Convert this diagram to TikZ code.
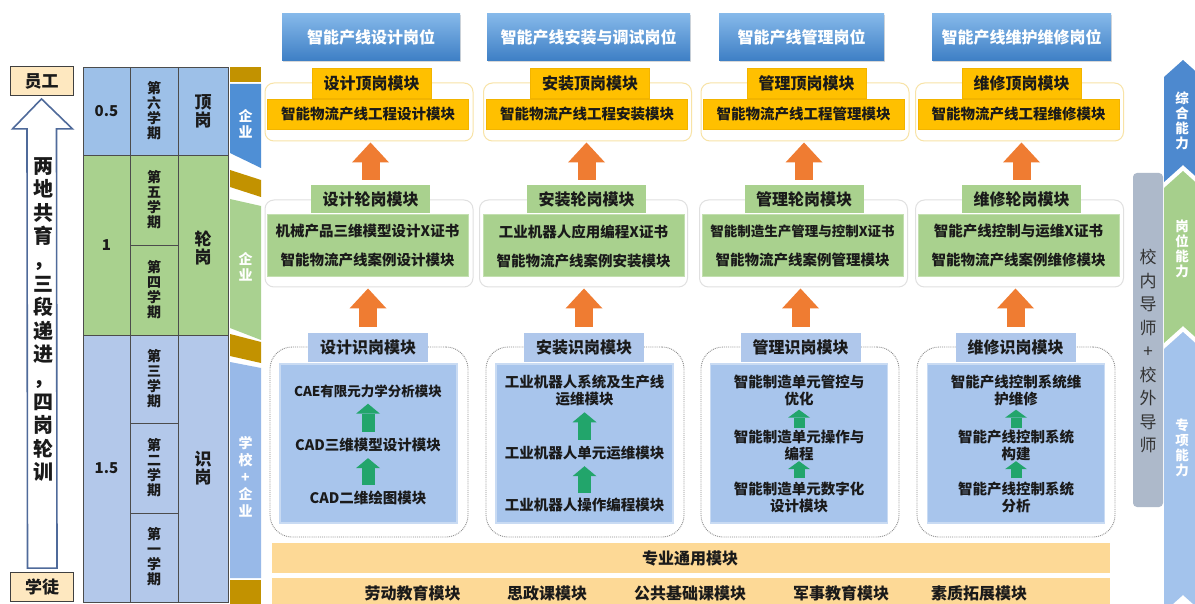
\documentclass[tikz,border=0pt]{standalone}
\usepackage{fontspec}
\setmainfont{Noto Sans CJK SC}
\usetikzlibrary{arrows.meta,shadows}

\newcommand{\fsz}[2]{\fontsize{#1}{#2}\selectfont}

\definecolor{hdrtop}{HTML}{86B9EA}
\definecolor{hdrbot}{HTML}{3E7FC5}
\definecolor{gold}{HTML}{FFC000}
\definecolor{goldedge}{HTML}{F2B400}
\definecolor{goldline}{HTML}{F8E3A6}
\definecolor{grn}{HTML}{A9D18E}
\definecolor{sktab}{HTML}{AFC7EB}
\definecolor{skbox}{HTML}{A8C5EC}
\definecolor{skrim}{HTML}{C9DBF3}
\definecolor{orangearr}{HTML}{EF7C32}
\definecolor{greenarr}{HTML}{22A56B}
\definecolor{tanbar}{HTML}{FDD996}
\definecolor{cellblue}{HTML}{9DC0E8}
\definecolor{cellgreen}{HTML}{A9D18E}
\definecolor{celllight}{HTML}{B3C8EA}
\definecolor{strgold}{HTML}{C29200}
\definecolor{strblue}{HTML}{4F8FD5}
\definecolor{strgreen}{HTML}{A9D190}
\definecolor{strlight}{HTML}{98B9E8}
\definecolor{mentor}{HTML}{ADB9CA}
\definecolor{capblue}{HTML}{4D89CF}
\definecolor{capgreen}{HTML}{A6CF8C}
\definecolor{caplight}{HTML}{A3C3EC}
\definecolor{arrline}{HTML}{4F6A9A}
\definecolor{txt}{HTML}{1A1A1A}

\begin{document}
\begin{tikzpicture}[x=1pt,y=-1pt,
  hdr/.style={inner sep=0, minimum height=47, top color=hdrtop, bottom color=hdrbot,
    text=white, font=\fsz{16}{18}\bfseries,
    drop shadow={shadow xshift=1pt, shadow yshift=-2pt, opacity=0.3}},
  topout/.style={draw=goldline, line width=1pt, rounded corners=9, fill=white,
    minimum width=208, minimum height=58, inner sep=0},
  toptab/.style={draw=goldedge, fill=gold, inner sep=0, minimum width=119,
    minimum height=30, text=txt, font=\fsz{16}{18}\bfseries},
  topbar/.style={draw=goldedge, fill=gold, inner sep=0, minimum width=201,
    minimum height=30, text=txt, font=\fsz{14.5}{17}\bfseries},
  midout/.style={draw=black!12, line width=1pt, rounded corners=9, fill=white,
    minimum width=208, minimum height=87, inner sep=0},
  midtab/.style={fill=grn, inner sep=0, minimum width=119, minimum height=28,
    text=txt, font=\fsz{16}{18}\bfseries},
  midbox/.style={draw=grn!70!white, line width=1pt, fill=grn, inner sep=0,
    minimum width=201, minimum height=62, align=center, text=txt,
    font=\fsz{14.5}{29}\bfseries},
  lowout/.style={draw=black!45, densely dotted, line width=0.9pt, rounded corners=22,
    minimum width=198, minimum height=190, inner sep=0},
  lowtab/.style={fill=sktab, inner sep=0, minimum width=120, minimum height=29,
    text=txt, font=\fsz{16}{18}\bfseries},
  lowbox/.style={draw=skrim, line width=1.5pt, fill=skbox, inner sep=0,
    minimum width=177, minimum height=159},
  lowtxt/.style={inner sep=0, align=center, text=txt, font=\fsz{14.5}{17}\bfseries},
  uporange/.style={orangearr, line width=18pt,
    -{Triangle[width=37pt,length=20pt,line width=0pt]}},
  upgreen/.style={greenarr, line width=13pt,
    -{Triangle[width=24pt,length=10pt,line width=0pt]}},
  upgreensm/.style={greenarr, line width=11pt,
    -{Triangle[width=22pt,length=8pt,line width=0pt]}},
  vtxt/.style={inner sep=0, align=center, text=txt},
  whitetxt/.style={inner sep=0, align=center, text=white},
  basetxt/.style={inner sep=0, text=txt, font=\fsz{16}{18}\bfseries},
  endbox/.style={draw=black!75, line width=0.8pt, fill=tanbar!60!white, inner sep=0,
    minimum width=63, minimum height=29, text=txt, font=\fsz{17}{19}\bfseries},
]
\clip (0,0) rectangle (1195,604);
\fill[white] (0,0) rectangle (1195,604);

% left: apprentice to employee
\node[endbox] (yg) at (41.5,81) {员工};
\node[endbox] (xt) at (42,587) {学徒};
\draw[arrline, line width=1.6pt, fill=white]
  ([xshift=-14.5pt,yshift=4pt]xt.north) -- ([xshift=-14.5pt,yshift=-33pt]yg.south)
  -- ([xshift=-29pt,yshift=-33pt]yg.south) -- ([yshift=-3pt]yg.south)
  -- ([xshift=31pt,yshift=-33pt]yg.south) -- ([xshift=15pt,yshift=-33pt]yg.south)
  -- ([xshift=15pt,yshift=4pt]xt.north) -- cycle;
\node[vtxt, font=\fsz{20}{23.6}\bfseries] (motto) at (43,319.5)
  {两\\地\\共\\育\\，\\三\\段\\递\\进\\，\\四\\岗\\轮\\训};

% semester table
\fill[cellblue] (83,67) rectangle (228,155);
\fill[cellgreen] (83,155) rectangle (228,335);
\fill[celllight] (83,335) rectangle (228,602);
\draw[black!70, line width=0.8pt] (83,67) rectangle (228,602);
\draw[black!70, line width=0.8pt] (83,155) -- (228,155);
\draw[black!70, line width=0.8pt] (83,335) -- (228,335);
\draw[black!70, line width=0.8pt] (130,67) -- (130,602);
\draw[black!70, line width=0.8pt] (178,67) -- (178,602);
\draw[black!70, line width=0.8pt] (130,245) -- (178,245);
\draw[black!70, line width=0.8pt] (130,423) -- (178,423);
\draw[black!70, line width=0.8pt] (130,513) -- (178,513);

\node[vtxt, font=\fsz{15}{17}\bfseries] (yr1) at (106.5,111) {0.5};
\node[vtxt, font=\fsz{15}{17}\bfseries] (yr2) at (106.5,245) {1};
\node[vtxt, font=\fsz{15}{17}\bfseries] (yr3) at (106.5,468) {1.5};
\node[vtxt, font=\fsz{14}{15}\bfseries] (sem6) at (154,111) {第\\六\\学\\期};
\node[vtxt, font=\fsz{14}{15}\bfseries] (sem5) at (154,200) {第\\五\\学\\期};
\node[vtxt, font=\fsz{14}{15}\bfseries] (sem4) at (154,290) {第\\四\\学\\期};
\node[vtxt, font=\fsz{14}{15}\bfseries] (sem3) at (154,379) {第\\三\\学\\期};
\node[vtxt, font=\fsz{14}{15}\bfseries] (sem2) at (154,468) {第\\二\\学\\期};
\node[vtxt, font=\fsz{14}{15}\bfseries] (sem1) at (154,557) {第\\一\\学\\期};
\node[vtxt, font=\fsz{17}{18}\bfseries] (stg1) at (203,111) {顶\\岗};
\node[vtxt, font=\fsz{17}{18}\bfseries] (stg2) at (203,248) {轮\\岗};
\node[vtxt, font=\fsz{17}{18}\bfseries] (stg3) at (203,468) {识\\岗};

% place strip
\fill[strgold] (230,67) -- (261,67) -- (261,82) -- (230,82) -- cycle;
\fill[strblue] (230,84) -- (261,84) -- (261,168) -- (230,153) -- cycle;
\fill[strgold] (230,170) -- (261,180) -- (261,197) -- (230,187) -- cycle;
\fill[strgreen] (230,199) -- (261,206) -- (261,340) -- (230,328) -- cycle;
\fill[strgold] (230,334) -- (261,342) -- (261,363) -- (230,356) -- cycle;
\fill[strlight] (230,362) -- (261,368) -- (261,578) -- (230,578) -- cycle;
\fill[strgold] (230,580) -- (261,580) -- (261,604) -- (230,604) -- cycle;
\node[whitetxt, font=\fsz{14}{16.5}\bfseries] (plc1) at (245.5,124) {企\\业};
\node[whitetxt, font=\fsz{14}{16.5}\bfseries] (plc2) at (245.5,267) {企\\业};
\node[whitetxt, font=\fsz{14}{17}\bfseries] (plc3) at (245.5,477) {学\\校\\+\\企\\业};

% posts
\node[hdr, minimum width=178] (pos1) at (371,37) {智能产线设计岗位};
\node[hdr, minimum width=203] (pos2) at (588.5,37) {智能产线安装与调试岗位};
\node[hdr, minimum width=165] (pos3) at (801.5,37) {智能产线管理岗位};
\node[hdr, minimum width=179] (pos4) at (1021.5,37) {智能产线维护维修岗位};

% top post modules
\node[topout] (dout1) at (369,112) {};
\node[topout] (dout2) at (587.5,112) {};
\node[topout] (dout3) at (805,112) {};
\node[topout] (dout4) at (1019.5,112) {};
\node[toptab] (dtab1) at (371.5,83) {设计顶岗模块};
\node[toptab] (dtab2) at (590,83) {安装顶岗模块};
\node[toptab] (dtab3) at (806.5,83) {管理顶岗模块};
\node[toptab] (dtab4) at (1021.5,83) {维修顶岗模块};
\node[topbar] (dbar1) at (368,114) {智能物流产线工程设计模块};
\node[topbar] (dbar2) at (587,114) {智能物流产线工程安装模块};
\node[topbar] (dbar3) at (803.5,114) {智能物流产线工程管理模块};
\node[topbar] (dbar4) at (1018.5,114) {智能物流产线工程维修模块};

% rotation modules
\node[midout] (lout1) at (369,243.5) {};
\node[midout] (lout2) at (583.5,243.5) {};
\node[midout] (lout3) at (803.5,243.5) {};
\node[midout] (lout4) at (1019.5,243.5) {};
\node[midtab] (ltab1) at (370.5,199) {设计轮岗模块};
\node[midtab] (ltab2) at (586.5,199) {安装轮岗模块};
\node[midtab] (ltab3) at (804,199) {管理轮岗模块};
\node[midtab] (ltab4) at (1021.5,199) {维修轮岗模块};
\node[midbox] (lbox1) at (367.5,246) {机械产品三维模型设计X证书\\智能物流产线案例设计模块};
\node[midbox] (lbox2) at (583.5,246) {工业机器人应用编程X证书\\智能物流产线案例安装模块};
\node[midbox] (lbox3) at (802.5,246) {{\fsz{13.5}{29}智能制造生产管理与控制X证书}\\智能物流产线案例管理模块};
\node[midbox] (lbox4) at (1018.5,246) {智能产线控制与运维X证书\\智能物流产线案例维修模块};

% recognition modules
\node[lowout] (sout1) at (369,442) {};
\node[lowout] (sout2) at (585,442) {};
\node[lowout] (sout3) at (800,442) {};
\node[lowout] (sout4) at (1016,442) {};
\node[lowtab] (stab1) at (368,347.5) {设计识岗模块};
\node[lowtab] (stab2) at (584,347.5) {安装识岗模块};
\node[lowtab] (stab3) at (800.5,347.5) {管理识岗模块};
\node[lowtab] (stab4) at (1015.5,347.5) {维修识岗模块};
\node[lowbox] (sbox1) at (368.5,443.5) {};
\node[lowbox] (sbox2) at (584.5,443.5) {};
\node[lowbox] (sbox3) at (799,443.5) {};
\node[lowbox] (sbox4) at (1016,443.5) {};

\node[lowtxt, font=\fsz{13.5}{17}\bfseries] (c1a) at (368,391) {CAE有限元力学分析模块};
\node[lowtxt] (c1b) at (368,445) {CAD三维模型设计模块};
\node[lowtxt] (c1c) at (368,498) {CAD二维绘图模块};
\node[lowtxt] (c2a) at (584.5,390.5) {工业机器人系统及生产线\\运维模块};
\node[lowtxt] (c2b) at (584.5,453) {工业机器人单元运维模块};
\node[lowtxt] (c2c) at (584.5,505) {工业机器人操作编程模块};
\node[lowtxt] (c3a) at (799,390.5) {智能制造单元管控与\\优化};
\node[lowtxt] (c3b) at (799,445) {智能制造单元操作与\\编程};
\node[lowtxt] (c3c) at (799,497) {智能制造单元数字化\\设计模块};
\node[lowtxt] (c4a) at (1016,390.5) {智能产线控制系统维\\护维修};
\node[lowtxt] (c4b) at (1016,445) {智能产线控制系统\\构建};
\node[lowtxt] (c4c) at (1016,497) {智能产线控制系统\\分析};

\draw[upgreen, shorten <=6pt, shorten >=6pt] (c1b.north) -- (c1a.south);
\draw[upgreen, shorten <=6pt, shorten >=6pt] (c1c.north) -- (c1b.south);
\draw[upgreen, shorten <=6pt, shorten >=6pt] (c2b.north) -- (c2a.south);
\draw[upgreen, shorten <=5pt, shorten >=6pt] (c2c.north) -- (c2b.south);
\draw[upgreensm, shorten <=1.5pt, shorten >=3.5pt] (c3b.north) -- (c3a.south);
\draw[upgreensm, shorten <=3pt, shorten >=0.5pt] (c3c.north) -- (c3b.south);
\draw[upgreensm, shorten <=1.5pt, shorten >=3.5pt] (c4b.north) -- (c4a.south);
\draw[upgreensm, shorten <=3pt, shorten >=0.5pt] (c4c.north) -- (c4b.south);

% stage arrows
\draw[uporange, shorten <=5pt, shorten >=1pt] (ltab1.north) -- (ltab1.north |- dout1.south);
\draw[uporange, shorten <=5pt, shorten >=1pt] (ltab2.north) -- (ltab2.north |- dout2.south);
\draw[uporange, shorten <=5pt, shorten >=1pt] (ltab3.north) -- (ltab3.north |- dout3.south);
\draw[uporange, shorten <=5pt, shorten >=1pt] (ltab4.north) -- (ltab4.north |- dout4.south);
\draw[uporange, shorten <=6pt, shorten >=1pt] (stab1.north) -- (stab1.north |- lout1.south);
\draw[uporange, shorten <=6pt, shorten >=1pt] (stab2.north) -- (stab2.north |- lout2.south);
\draw[uporange, shorten <=6pt, shorten >=1pt] (stab3.north) -- (stab3.north |- lout3.south);
\draw[uporange, shorten <=6pt, shorten >=1pt] (stab4.north) -- (stab4.north |- lout4.south);

% common base modules
\node[fill=tanbar, inner sep=0, minimum width=838, minimum height=30] (base1) at (691,558) {};
\node[basetxt] (base1t) at (690,558) {专业通用模块};
\node[fill=tanbar, inner sep=0, minimum width=838, minimum height=28] (base2) at (691,592) {};
\node[basetxt] (gen1) at (412.5,593) {劳动教育模块};
\node[basetxt] (gen2) at (547,593) {思政课模块};
\node[basetxt] (gen3) at (690,593) {公共基础课模块};
\node[basetxt] (gen4) at (841,593) {军事教育模块};
\node[basetxt] (gen5) at (979,593) {素质拓展模块};

% mentors
\node[fill=mentor, rounded corners=4, inner sep=0, minimum width=30, minimum height=334] (mnt) at (1148,340) {};
\node[vtxt, text=black!80, font=\fsz{17}{23.5}] (mntt) at (1148,351)
  {校\\内\\导\\师\\+\\校\\外\\导\\师};

% abilities
\fill[capblue] (1164,77) -- (1183,60) -- (1202,77) -- (1202,182) -- (1183,165) -- (1164,182) -- cycle;
\fill[capgreen] (1164,188) -- (1183,171) -- (1202,188) -- (1202,343) -- (1183,326) -- (1164,343) -- cycle;
\fill[caplight] (1164,349) -- (1183,332) -- (1202,349) -- (1202,612) -- (1183,595) -- (1164,612) -- cycle;
\node[whitetxt, font=\fsz{13.5}{15}\bfseries] (ab1) at (1182,121) {综\\合\\能\\力};
\node[whitetxt, font=\fsz{13.5}{15}\bfseries] (ab2) at (1182,249) {岗\\位\\能\\力};
\node[whitetxt, font=\fsz{13.5}{15}\bfseries] (ab3) at (1182,448) {专\\项\\能\\力};

\end{tikzpicture}
\end{document}
